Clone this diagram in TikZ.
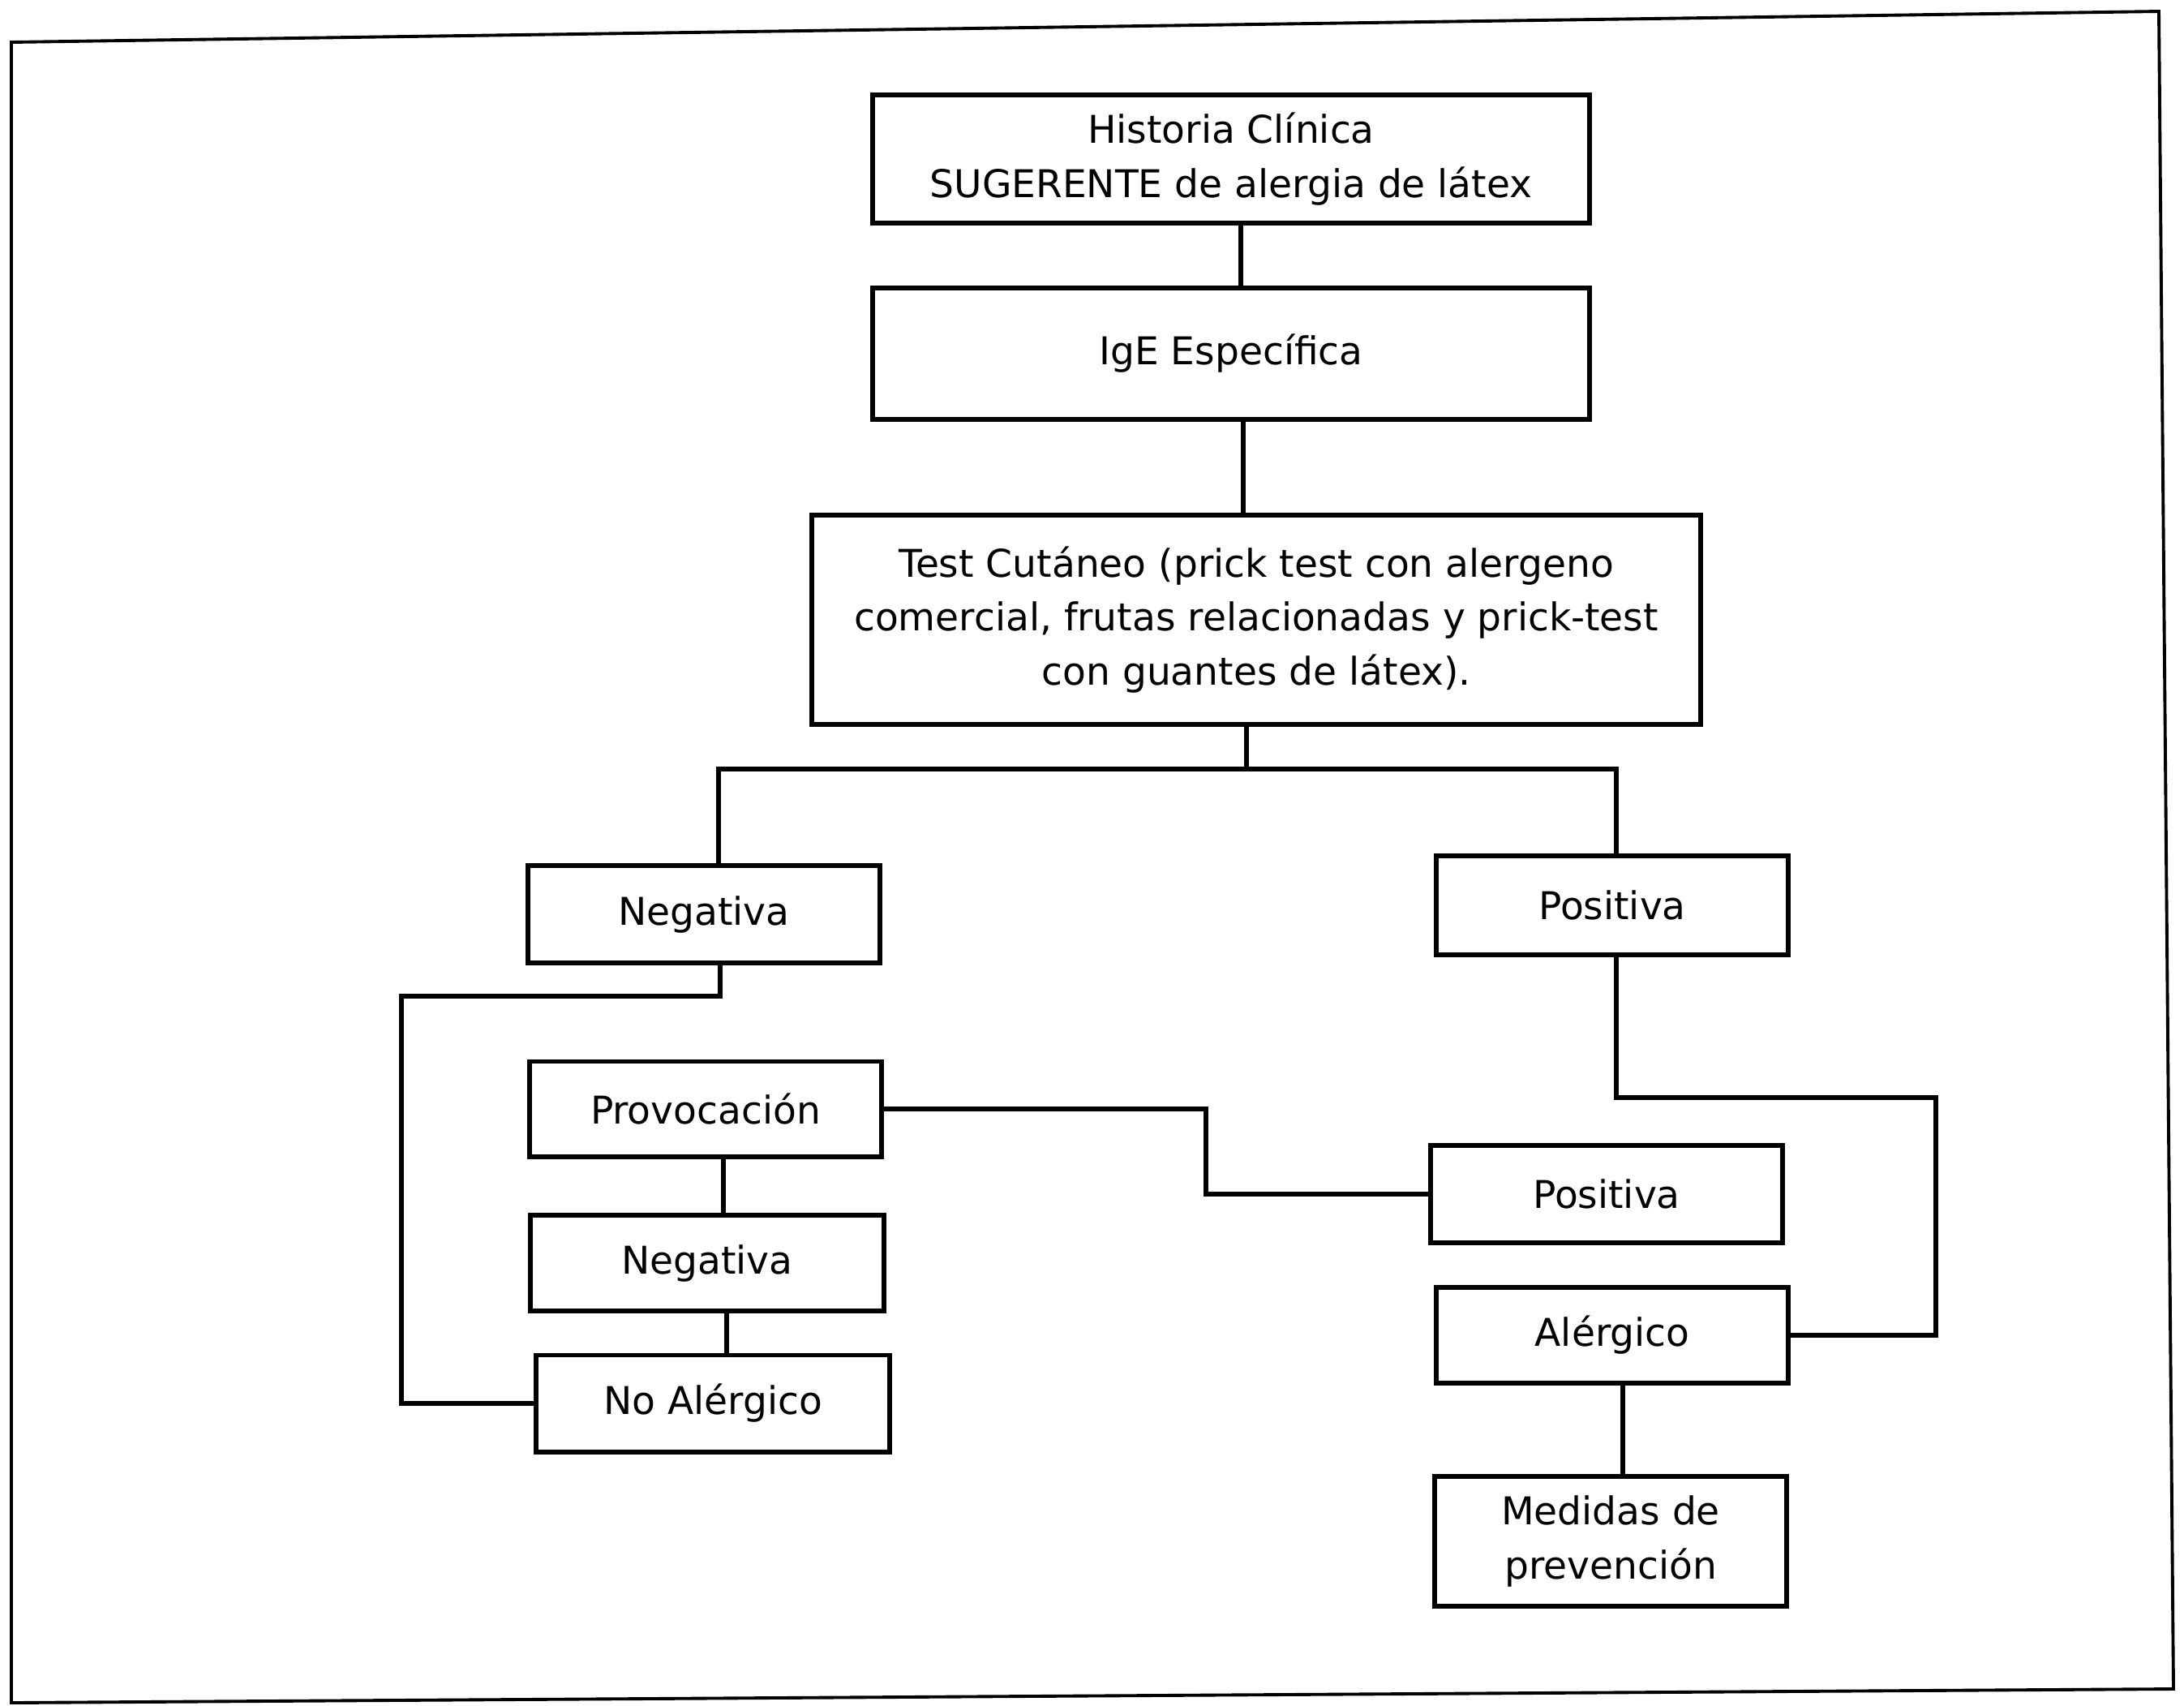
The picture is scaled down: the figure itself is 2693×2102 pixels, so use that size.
\documentclass[tikz,border=0pt]{standalone}
\usepackage{fontspec}
\setmainfont{DejaVu Sans}
\begin{document}
\begin{tikzpicture}[x=0.01cm,y=-0.01cm,
  box/.style={draw, line width=1.7pt, inner sep=0pt, align=center,
    font=\fontsize{13.4}{19}\selectfont},
  link/.style={line width=1.5pt},
  frame/.style={line width=1.1pt}]
\useasboundingbox (0,0) rectangle (2693,2102);
\draw[frame] (14,52) -- (2662,14) -- (2680,2082) -- (14,2099) -- cycle;

\node[box, minimum width=8.83cm, minimum height=1.58cm] (hist) at (1518,196) {Historia Clínica\\SUGERENTE de alergia de látex};
\node[box, minimum width=8.83cm, minimum height=1.61cm] (ige) at (1518,436) {IgE Específica};
\node[box, minimum width=10.96cm, minimum height=2.58cm] (test) at (1549,764) {Test Cutáneo (prick test con alergeno\\comercial, frutas relacionadas y prick-test\\con guantes de látex).};
\node[box, minimum width=4.34cm, minimum height=1.19cm] (neg1) at (868,1127) {Negativa};
\node[box, minimum width=4.34cm, minimum height=1.21cm] (pos1) at (1988,1116) {Positiva};
\node[box, minimum width=4.34cm, minimum height=1.17cm] (prov) at (870,1367) {Provocación};
\node[box, minimum width=4.35cm, minimum height=1.18cm] (neg2) at (872,1557) {Negativa};
\node[box, minimum width=4.36cm, minimum height=1.19cm] (noal) at (879,1730) {No Alérgico};
\node[box, minimum width=4.34cm, minimum height=1.20cm] (pos2) at (1981,1472) {Positiva};
\node[box, minimum width=4.34cm, minimum height=1.18cm] (alerg) at (1988,1646) {Alérgico};
\node[box, minimum width=4.34cm, minimum height=1.60cm] (med) at (1986,1900) {Medidas de\\prevención};

\coordinate (split) at (1537,948);
\coordinate (lft) at (495,1228);
\coordinate (mid) at (1487,1420);
\coordinate (rgt) at (2387,1353);

\draw[link] ([xshift=0.12cm]hist.south) -- ([xshift=0.12cm]hist.south |- ige.north);
\draw[link] ([xshift=0.15cm]ige.south) -- ([xshift=0.15cm]ige.south |- test.north);
\draw[link] (split |- test.south) -- (split);
\draw[link] (split) -| ([xshift=0.18cm]neg1.north);
\draw[link] (split) -| ([xshift=0.05cm]pos1.north);
\draw[link] ([xshift=0.2cm]neg1.south) |- (lft) |- (noal.west);
\draw[link] (prov.east) -| (mid) |- (pos2.west);
\draw[link] ([xshift=0.22cm]prov.south) -- ([xshift=0.22cm]prov.south |- neg2.north);
\draw[link] ([xshift=0.24cm]neg2.south) -- ([xshift=0.24cm]neg2.south |- noal.north);
\draw[link] ([xshift=0.05cm]pos1.south) |- (rgt) |- (alerg.east);
\draw[link] ([xshift=0.13cm]alerg.south) -- ([xshift=0.13cm]alerg.south |- med.north);
\end{tikzpicture}
\end{document}
